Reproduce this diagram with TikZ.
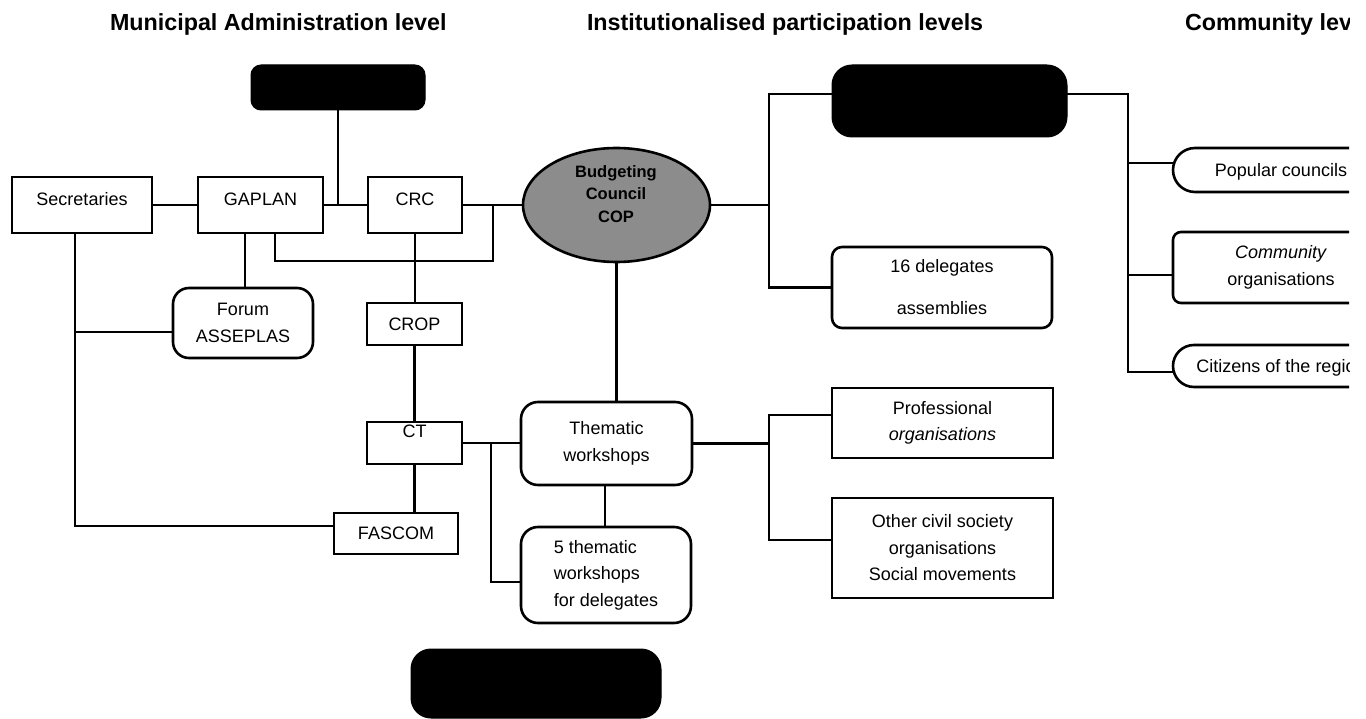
\documentclass[tikz,border=0pt]{standalone}
\usepackage{fontspec}
\setmainfont{Liberation Sans}
\usetikzlibrary{shapes.geometric,calc}
\definecolor{copgray}{gray}{0.55}

\begin{document}
\begin{tikzpicture}[x=1pt,y=-1pt,
  every node/.style={inner sep=0pt, outer sep=0pt},
  conn/.style={line width=2.6pt},
  header/.style={anchor=base west, font=\fontsize{23.3}{28}\selectfont\bfseries},
  body/.style={font=\fontsize{18}{26.5}\selectfont, align=center},
  sqbox/.style={body, draw, line width=2.6pt, rectangle, fill=white},
  rbox/.style={sqbox, rounded corners=#1},
  blackbox/.style={draw, fill=black, line width=1pt, rectangle, rounded corners=#1},
  oneline/.style={text height=12.9pt, text depth=#1},
]
\path[use as bounding box] (0,0) rectangle (1366,719);
\clip (0,0) rectangle (1349,719);

% column headings
\node[header] (h1) at (110,30.5) {Municipal Administration level};
\node[header] (h2) at (587,30.5) {Institutionalised participation levels};
\node[header] (h3) at (1185,30.5) {Community level};

% municipal administration
\node[blackbox=10pt, minimum width=174pt, minimum height=45pt] (blackA) at (338,87.5) {};
\node[sqbox, oneline=11pt, minimum width=140pt, minimum height=56pt] (sec) at (82,205) {Secretaries};
\node[sqbox, oneline=12pt, minimum width=125pt, minimum height=56pt] (gap) at (260.5,205) {GAPLAN};
\node[sqbox, oneline=12pt, minimum width=94pt, minimum height=56pt] (crc) at (415,205) {CRC};
\node[rbox=16pt, minimum width=140pt, minimum height=70pt] (forum) at (243,323) {Forum\\ASSEPLAS};
\node[sqbox, oneline=0pt, minimum width=95pt, minimum height=42pt] (crop) at (414.5,324) {CROP};
\node[sqbox, oneline=24pt, minimum width=95pt, minimum height=42pt] (ct) at (414.5,443) {CT};
\node[sqbox, oneline=0pt, minimum width=124pt, minimum height=41pt] (fascom) at (396,533.5) {FASCOM};

% institutionalised participation
\node[ellipse, draw, line width=2.6pt, fill=copgray, minimum width=187pt, minimum height=114pt] (cop) at (616.5,205) {};
\node[font=\fontsize{16.5}{22.5}\selectfont\bfseries, align=center] (coptext) at (616,194) {Budgeting\\Council\\COP};
\node[rbox=17pt, minimum width=171pt, minimum height=83pt] (them) at (606.5,443.5) {Thematic\\workshops};
\node[rbox=17pt, minimum width=170pt, minimum height=96pt, align=left] (five) at (606,575) {5 thematic\\workshops\\for delegates};
\node[blackbox=20pt, minimum width=235pt, minimum height=72pt] (blackB) at (949.5,101) {};
\node[rbox=10pt, minimum width=220pt, minimum height=81pt, font=\fontsize{18}{42}\selectfont] (del16) at (942,287.5) {16 delegates\\assemblies};
\node[sqbox, minimum width=221pt, minimum height=70pt] (prof) at (942.5,423) {Professional\\\textit{organisations}};
\node[sqbox, minimum width=221pt, minimum height=100pt] (other) at (942.5,548) {Other civil society\\organisations\\Social movements};
\node[blackbox=20pt, minimum width=250pt, minimum height=69pt] (blackC) at (536,683.5) {};

% community level
\node[rbox=22pt, oneline=0pt, minimum width=216pt, minimum height=44pt] (pop) at (1281,170) {Popular councils};
\node[rbox=8pt, minimum width=216pt, minimum height=71pt] (comm) at (1281,267.5) {\textit{Community}\\organisations};
\node[rbox=21pt, oneline=0pt, minimum width=216pt, minimum height=42pt] (cit) at (1281,366) {Citizens of the region};

% connectors: municipal administration
\draw[conn] (sec.east) -- (gap.west);
\draw[conn] (gap.east) -- (crc.west);
\draw[conn] (blackA.south) -- (blackA.south |- gap.east);
\draw[conn] (crc.east) -- (cop.west);
\coordinate (gs) at ([xshift=14.5pt]gap.south);
\coordinate (jr) at (493,261);
\draw[conn] (gs) |- (jr) -- (jr |- crc.east);
\coordinate (gf) at ([xshift=-15.5pt]gap.south);
\draw[conn] (gf) -- (gf |- forum.north);
\coordinate (sx) at ([xshift=-7pt]sec.south);
\coordinate (fa) at ([yshift=7.5pt]fascom.west);
\draw[conn] (sx) |- (fa);
\coordinate (fw) at ([yshift=-9pt]forum.west);
\draw[conn] (fw) -- (sx |- fw);
\draw[conn] (crc.south) -- (crc.south |- crop.north);
\draw[conn] (crop.south) -- (crop.south |- ct.north);
\draw[conn] (ct.south) -- (ct.south |- fascom.north);

% connectors: thematic workshops
\draw[conn] (ct.east) -- (ct.east -| them.west);
\coordinate (jt) at ([xshift=29pt]ct.east);
\coordinate (fv) at ([yshift=-7pt]five.west);
\draw[conn] (jt) |- (fv);
\draw[conn] (cop.south) -- (cop.south |- them.north);
\coordinate (ts) at ([xshift=-1.5pt]them.south);
\draw[conn] (ts) -- (ts |- five.north);

% connectors: budgeting council
\coordinate (vx) at ([xshift=59pt]cop.east);
\draw[conn] (cop.east) -- (vx);
\draw[conn] ([yshift=7pt]blackB.west) -| (vx) |- (del16.west);
\coordinate (vy) at ([xshift=77pt]them.east);
\draw[conn] (them.east) -- (vy);
\draw[conn] ([yshift=8pt]prof.west) -| (vy) |- ([yshift=8pt]other.west);

% connectors: community level
\coordinate (vz) at ([xshift=61pt,yshift=7pt]blackB.east);
\draw[conn] ([yshift=7pt]blackB.east) -- (vz) |- ([yshift=-6pt]cit.west);
\coordinate (pw) at ([yshift=7pt]pop.west);
\draw[conn] (pw) -- (vz |- pw);
\coordinate (cw) at ([yshift=-7.5pt]comm.west);
\draw[conn] (cw) -- (vz |- cw);
\end{tikzpicture}
\end{document}
